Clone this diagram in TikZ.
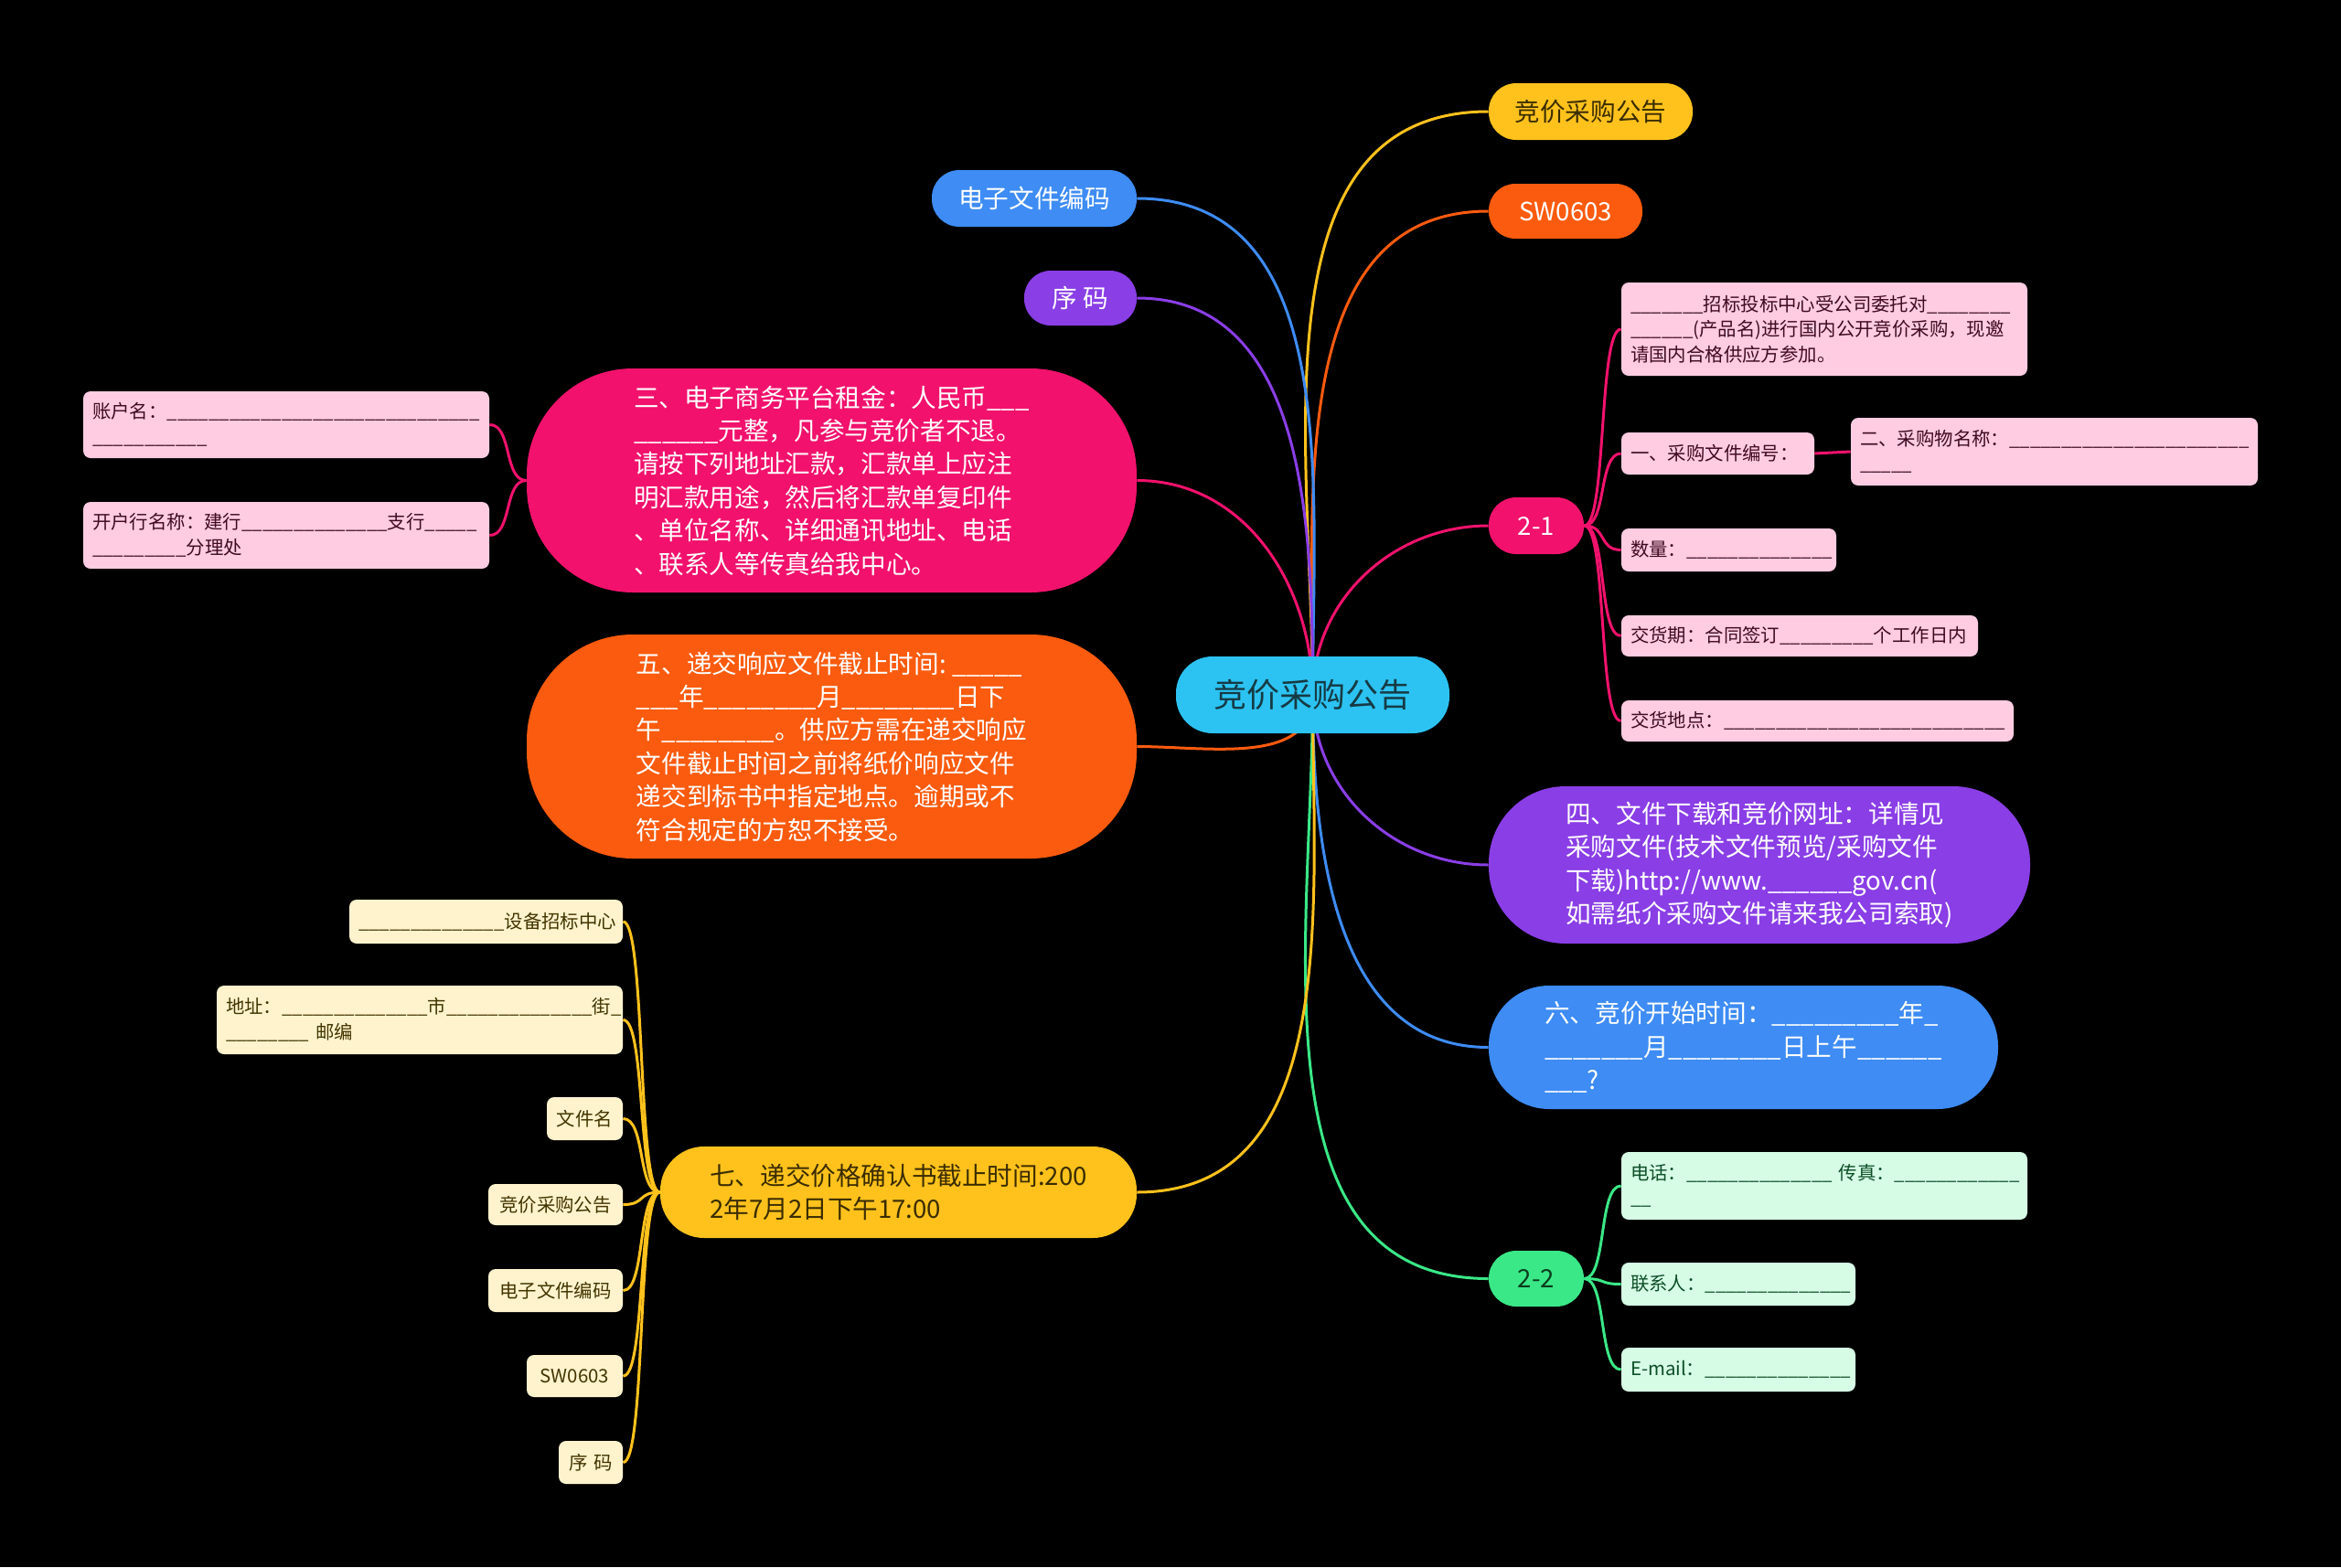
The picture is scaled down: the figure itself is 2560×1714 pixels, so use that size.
\documentclass[tikz,border=0pt]{standalone}
\usepackage{fontspec}
\setmainfont{Noto Sans CJK SC}
\usetikzlibrary{backgrounds}
\definecolor{skyCyan}{HTML}{2CC3F2}
\definecolor{rootInk}{HTML}{163A44}
\definecolor{amber}{HTML}{FFC21C}
\definecolor{amberInk}{HTML}{3A2C00}
\definecolor{flame}{HTML}{FB5B0E}
\definecolor{rose}{HTML}{F2126D}
\definecolor{grape}{HTML}{8A3EE6}
\definecolor{azure}{HTML}{3E8CF4}
\definecolor{mint}{HTML}{3AE887}
\definecolor{mintInk}{HTML}{0B3D1E}
\definecolor{roseLight}{HTML}{FFCCE2}
\definecolor{roseInk}{HTML}{400B22}
\definecolor{creamLight}{HTML}{FFF3CE}
\definecolor{creamInk}{HTML}{433500}
\definecolor{mintLight}{HTML}{D6FCE6}
\definecolor{mintDark}{HTML}{0D4F27}
\newcommand{\blank}[1]{%%
  %% A run of underscores for a field to fill in.
  \foreach \blankI in {1,...,#1}{\_}%%
}
\newcommand{\mainFont}{\fontsize{13.8pt}{18.2pt}\selectfont}
\newcommand{\subFont}{\fontsize{10.2pt}{13.75pt}\selectfont}
\newcommand{\rightLink}[2]{%%
  \draw[linkStyle,#1] (#2) .. controls +(25,0) and +(-25,0) ..}
\newcommand{\leftLink}[2]{%%
  \draw[linkStyle,#1] (#2) .. controls +(-25,0) and +(25,0) ..}

\begin{document}
\begin{tikzpicture}[%%
  x=0.5pt,y=-0.5pt,%%
  rootStyle/.style={fill=skyCyan,text=rootInk,inner sep=0pt,minimum width=149.5pt,minimum height=42pt,rounded corners=20pt,font=\fontsize{18pt}{22pt}\selectfont},%%
  mainStyle/.style={text=white,inner sep=0pt,align=left,font=\mainFont},%%
  subStyle/.style={inner xsep=5pt,inner ysep=0pt,align=left,rounded corners=4pt,font=\subFont},%%
  pinkStyle/.style={subStyle,fill=roseLight,text=roseInk},%%
  creamStyle/.style={subStyle,fill=creamLight,text=creamInk},%%
  greenStyle/.style={subStyle,fill=mintLight,text=mintDark},%%
  linkStyle/.style={-,line width=1.5pt}%%
]
%%
%% The central topic.
\node[rootStyle] (root) at (1435.5,760) {竞价采购公告};
%%
%% Main topics on the right.
\node[mainStyle,fill=amber,text=amberInk,minimum width=111.5pt,minimum height=31pt,rounded corners=15pt] (notice) at (1739.5,122) {竞价采购公告};
\node[mainStyle,fill=flame,minimum width=84pt,minimum height=30pt,rounded corners=14.5pt] (codeTag) at (1712,231) {SW0603};
\node[mainStyle,fill=rose,minimum width=52pt,minimum height=31pt,rounded corners=15pt] (partA) at (1680,575) {2-1};
\node[mainStyle,fill=grape,minimum width=296pt,minimum height=86pt,rounded corners=42pt] (download) at (1924,946) {四、文件下载和竞价网址：详情见\\采购文件(技术文件预览/采购文件\\下载)http://www.\blank{6}gov.cn(\\如需纸介采购文件请来我公司索取)};
\node[mainStyle,fill=azure,minimum width=278.5pt,minimum height=67.5pt,rounded corners=33pt] (startTime) at (1906.5,1145.5) {六、竞价开始时间：\blank{9}年\_\\\blank{7}月\blank{8}日上午\blank{6}\\\blank{3}?};
\node[mainStyle,fill=mint,text=mintInk,minimum width=52pt,minimum height=30.5pt,rounded corners=15pt] (partB) at (1680,1398.5) {2-2};
%%
%% Main topics on the left.
\node[mainStyle,fill=azure,minimum width=112pt,minimum height=31pt,rounded corners=15pt] (fileCode) at (1131,217) {电子文件编码};
\node[mainStyle,fill=grape,minimum width=61.5pt,minimum height=30pt,rounded corners=14.5pt] (serial) at (1181.5,326) {序~码};
\node[mainStyle,fill=rose,minimum width=333.5pt,minimum height=122.5pt,rounded corners=58pt] (rent) at (909.5,525.5) {三、电子商务平台租金：人民币\blank{3}\\\blank{6}元整，凡参与竞价者不退。\\请按下列地址汇款，汇款单上应注\\明汇款用途，然后将汇款单复印件\\、单位名称、详细通讯地址、电话\\、联系人等传真给我中心。};
\node[mainStyle,fill=flame,minimum width=333.5pt,minimum height=122.5pt,rounded corners=58pt] (deadline) at (909.5,816.5) {五、递交响应文件截止时间:~\blank{5}\\\blank{3}年\blank{8}月\blank{8}日下\\午\blank{8}。供应方需在递交响应\\文件截止时间之前将纸价响应文件\\递交到标书中指定地点。逾期或不\\符合规定的方恕不接受。};
\node[mainStyle,fill=amber,text=amberInk,minimum width=260.5pt,minimum height=50pt,rounded corners=24pt] (confirm) at (982.5,1304) {七、递交价格确认书截止时间:200\\2年7月2日下午17:00};
%%
%% Details of 2-1.
\node[pinkStyle,text width=212pt,minimum height=51pt] (invite) at (1995,360) {\blank{7}招标投标中心受公司委托对\blank{8}\\\blank{6}(产品名)进行国内公开竞价采购，现邀\\请国内合格供应方参加。};
\node[pinkStyle,text width=95.5pt,minimum height=23pt] (fileNo) at (1878.5,496) {一、采购文件编号：};
\node[pinkStyle,text width=212.5pt,minimum height=37pt] (itemName) at (2246.5,494) {二、采购物名称：\blank{23}\\\blank{5}};
\node[pinkStyle,text width=107.5pt,minimum height=23.5pt] (amount) at (1890.5,601.5) {数量：\blank{14}};
\node[pinkStyle,text width=185pt,minimum height=22.5pt] (deliveryTime) at (1968,695.5) {交货期：合同签订\blank{9}个工作日内};
\node[pinkStyle,text width=204.5pt,minimum height=22.5pt] (deliveryPlace) at (1987.5,788.5) {交货地点：\blank{27}};
%%
%% Details of the rent.
\node[pinkStyle,text width=212pt,minimum height=36.5pt] (account) at (313,464.5) {账户名：\blank{30}\\\blank{11}};
\node[pinkStyle,text width=212pt,minimum height=36.5pt] (bank) at (313,585.5) {开户行名称：建行\blank{14}支行\blank{5}\\\blank{9}分理处};
%%
%% Details of the confirmation deadline.
\node[creamStyle,text width=139.5pt,minimum height=24pt] (hub) at (531.5,1008) {\blank{14}设备招标中心};
\node[creamStyle,text width=212pt,minimum height=37.5pt] (address) at (459,1115.5) {地址：\blank{14}市\blank{14}街\_\\\blank{8}~邮编};
\node[creamStyle,align=center,text width=31.5pt,minimum height=23.5pt] (fileName) at (639.5,1223.5) {文件名};
\node[creamStyle,align=center,text width=63.5pt,minimum height=22.5pt] (title) at (607.5,1317.5) {竞价采购公告};
\node[creamStyle,align=center,text width=63.5pt,minimum height=23.5pt] (eCode) at (607.5,1411.5) {电子文件编码};
\node[creamStyle,align=center,text width=42.5pt,minimum height=23pt] (swCode) at (628.5,1505) {SW0603};
\node[creamStyle,align=center,text width=25pt,minimum height=23.5pt] (serialNo) at (646,1599.5) {序~码};
%%
%% Details of 2-2.
\node[greenStyle,text width=212pt,minimum height=37pt] (phone) at (1995,1297) {电话：\blank{14}~传真：\blank{12}\\\blank{2}};
\node[greenStyle,text width=118pt,minimum height=23.5pt] (contact) at (1901,1404.5) {联系人：\blank{14}};
\node[greenStyle,text width=118pt,minimum height=24pt] (email) at (1901,1498) {\mbox{E-mail}：\blank{14}};
%%
%%
\begin{scope}[on background layer]
  %% The black sheet.
  \fill[black] (0,0) rectangle (2560,1714);
  %% Branches from the central topic.
  \draw[linkStyle,amber] (root.center) to[out=90,in=180] (notice.west);
  \draw[linkStyle,flame] (root.center) to[out=90,in=180] (codeTag.west);
  \draw[linkStyle,rose] (root.center) to[out=90,in=180] (partA.west);
  \draw[linkStyle,grape] (root.center) to[out=-90,in=180] (download.west);
  \draw[linkStyle,azure] (root.center) to[out=-90,in=180] (startTime.west);
  \draw[linkStyle,mint] (root.center) to[out=-90,in=180] (partB.west);
  \draw[linkStyle,azure] (root.center) to[out=90,in=0] (fileCode.east);
  \draw[linkStyle,grape] (root.center) to[out=90,in=0] (serial.east);
  \draw[linkStyle,rose] (root.center) to[out=90,in=0] (rent.east);
  \draw[linkStyle,flame] (root.center) to[out=-90,in=0] (deadline.east);
  \draw[linkStyle,amber] (root.center) to[out=-90,in=0] (confirm.east);
  %% Branches of 2-1.
  \foreach \leaf in {invite,fileNo,amount,deliveryTime,deliveryPlace}
    \rightLink{rose}{partA.east} (\leaf.west);
  \draw[linkStyle,rose] (fileNo.east) -- (itemName.west);
  %% Branches of the rent.
  \foreach \leaf in {account,bank}
    \leftLink{rose}{rent.west} (\leaf.east);
  %% Branches of the confirmation deadline.
  \foreach \leaf in {hub,address,fileName,title,eCode,swCode,serialNo}
    \leftLink{amber}{confirm.west} (\leaf.east);
  %% Branches of 2-2.
  \foreach \leaf in {phone,contact,email}
    \rightLink{mint}{partB.east} (\leaf.west);
\end{scope}
\end{tikzpicture}
\end{document}
